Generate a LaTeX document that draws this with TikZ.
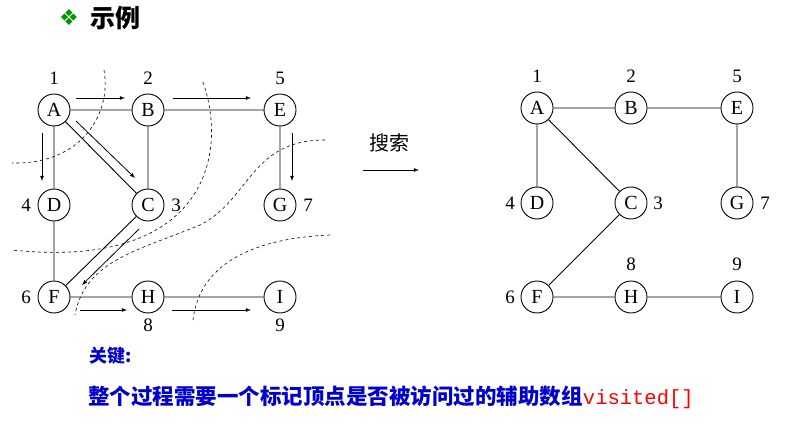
\documentclass[tikz,border=0pt]{standalone}
\usepackage{fontspec}
\setmainfont{Liberation Serif}
\newfontfamily\cjk{Noto Sans CJK SC}
\newfontfamily\sym{DejaVu Sans}
\setmonofont{Liberation Mono}
\begin{document}
\begin{tikzpicture}[x=1pt,y=-1pt,line width=0.9pt,
  vtx/.style={draw,circle,minimum size=32pt,inner sep=0pt,font=\fontsize{20}{20}\selectfont},
  lab/.style={font=\fontsize{19}{19}\selectfont},
  trav/.style={-latex,line width=0.8pt},
  cut/.style={dashed,line width=0.6pt}]
\useasboundingbox (0,0) rectangle (787,425);
\node[text=green!60!black,font=\sym\fontsize{22}{22}\selectfont] (orn) at (69,18) {❖};
\node[font=\cjk\bfseries\fontsize{25}{25}\selectfont] (ttl) at (115,18) {示例};
% left graph
\foreach \n/\x/\y in {A/54/110,B/148/110,E/280/110,D/54/205,C/148/205,G/280/205,F/54/297,H/148/297,I/280/297}
  \node[vtx] (\n) at (\x,\y) {\n};
\draw (A)--(B) (B)--(E) (A)--(D) (A)--(C) (B)--(C) (E)--(G) (D)--(F) (C)--(F) (F)--(H) (H)--(I);
\node[lab] (n1) at (54,78) {1};
\node[lab] (n2) at (148,78) {2};
\node[lab] (n5) at (280,78) {5};
\node[lab] (n4) at (26,205) {4};
\node[lab] (n3) at (176,205) {3};
\node[lab] (n7) at (308,205) {7};
\node[lab] (n6) at (26,297) {6};
\node[lab] (n8) at (148,325) {8};
\node[lab] (n9) at (280,325) {9};
\coordinate (a1) at (76,98); \coordinate (a2) at (125,98);
\coordinate (b1) at (173,98); \coordinate (b2) at (251,98);
\coordinate (c1) at (42,133); \coordinate (c2) at (42,181);
\coordinate (d1) at (76,121); \coordinate (d2) at (135,178);
\coordinate (e1) at (292,133); \coordinate (e2) at (292,181);
\coordinate (f1) at (139,229); \coordinate (f2) at (82,285);
\coordinate (g1) at (80,310); \coordinate (g2) at (127,310);
\coordinate (h1) at (172,310); \coordinate (h2) at (251,310);
\foreach \p in {a,b,c,d,e,f,g,h} \draw[trav] (\p1)--(\p2);
\draw[cut] (104,70) .. controls (112,115) and (80,165) .. (12,163);
\draw[cut] (203,82) .. controls (230,160) and (200,270) .. (12,250);
\draw[cut] (325,140) .. controls (250,140) and (250,200) .. (200,225) .. controls (140,250) and (85,260) .. (75,315);
\draw[cut] (330,235) .. controls (260,238) and (200,260) .. (193,320);
% arrow in middle
\node[font=\cjk\fontsize{20}{20}\selectfont] (ss) at (389,143) {搜索};
\coordinate (m1) at (363,170); \coordinate (m2) at (419,170);
\draw[trav] (m1)--(m2);
% right graph
\foreach \n/\x/\y in {A/537/108,B/631/108,E/737/108,D/537/203,C/631/203,G/737/203,F/537/297,H/631/297,I/737/297}
  \node[vtx] (r\n) at (\x,\y) {\n};
\draw (rA)--(rB) (rB)--(rE) (rA)--(rD) (rA)--(rC) (rE)--(rG) (rC)--(rF) (rF)--(rH) (rH)--(rI);
\node[lab] (r1) at (537,76) {1};
\node[lab] (r2) at (631,76) {2};
\node[lab] (r5) at (737,76) {5};
\node[lab] (r4) at (510,203) {4};
\node[lab] (r3) at (658,203) {3};
\node[lab] (r7) at (765,203) {7};
\node[lab] (r6) at (510,297) {6};
\node[lab] (r8) at (631,264) {8};
\node[lab] (r9) at (737,264) {9};
% bottom text
\node[anchor=west,text=blue!80!black,font=\cjk\bfseries\fontsize{18}{18}\selectfont] (k1) at (86,356) {关键:};
\node[anchor=west,inner sep=0pt,font=\fontsize{21.5}{21.5}\selectfont] (k2) at (88,397) {\textcolor{blue!80!black}{\cjk\bfseries 整个过程需要一个标记顶点是否被访问过的辅助数组}\textcolor{red}{\ttfamily\fontsize{20.5}{20.5}\selectfont visited[]}};
\end{tikzpicture}
\end{document}
